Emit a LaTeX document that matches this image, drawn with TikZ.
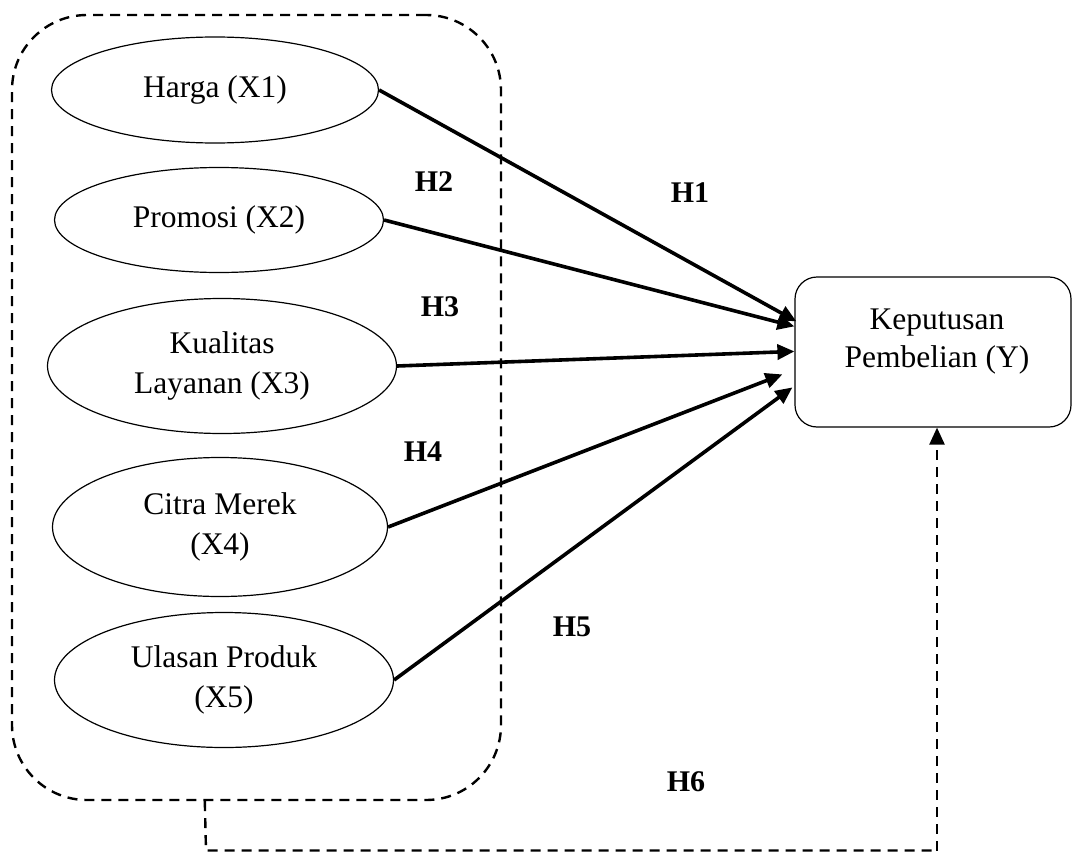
\documentclass[tikz,border=0pt]{standalone}
\usepackage{fontspec}
\setmainfont{Liberation Serif}
\usetikzlibrary{shapes.geometric,arrows.meta,calc}
\tikzset{
  var/.style={draw,ellipse,line width=1.2pt,inner sep=0pt,align=center,font=\fontsize{31.5}{40}\selectfont},
  grpbox/.style={draw,rounded corners=75pt,line width=2.4pt,dash pattern=on 10pt off 7pt,inner sep=0pt},
  ybox/.style={draw,rounded corners=22pt,line width=1.2pt,inner sep=0pt},
  ytext/.style={align=center,font=\fontsize{31.5}{38}\selectfont},
  hyp/.style={font=\fontsize{30}{30}\selectfont\bfseries},
  path/.style={line width=3.6pt,-{Triangle[length=17pt,width=15pt]}},
  dpath/.style={line width=2.4pt,dash pattern=on 10pt off 7pt},
  darr/.style={line width=2.4pt,dash pattern=on 10pt off 7pt,-{Triangle[length=17pt,width=15pt]}}
}
\begin{document}
\begin{tikzpicture}[x=1pt,y=-1pt]
\useasboundingbox (0,0) rectangle (1073,851);
\node[grpbox,minimum width=489pt,minimum height=785pt] (grp) at (256.5,407.5) {};
\node[var,minimum width=327pt,minimum height=106pt] (x1) at (215,90) {Harga (X1)};
\node[var,minimum width=329pt,minimum height=105pt] (x2) at (219,220) {Promosi (X2)};
\node[var,minimum width=349pt,minimum height=135pt] (x3) at (222,366) {Kualitas\\Layanan (X3)};
\node[var,minimum width=335pt,minimum height=139pt] (x4) at (220,527) {Citra Merek\\(X4)};
\node[var,minimum width=339pt,minimum height=135pt] (x5) at (224,680) {Ulasan Produk\\(X5)};
\node[ybox,minimum width=276pt,minimum height=150pt] (Y) at (933,352) {};
\node[ytext] (yt) at (937,342) {Keputusan\\Pembelian (Y)};
\node[hyp] (h1) at (690,193) {H1};
\node[hyp] (h2) at (434,182) {H2};
\node[hyp] (h3) at (440,307) {H3};
\node[hyp] (h4) at (423,452) {H4};
\node[hyp] (h5) at (572,627) {H5};
\node[hyp] (h6) at (686,782) {H6};
\draw[path] (x1.east) -- ($(Y.north west)+(2,45)$);
\draw[path] (x2.east) -- ($(Y.north west)+(0,50)$);
\draw[path] (x3.east) -- ($(Y.north west)+(0,75)$);
\draw[path] (x4.east) -- ($(Y.north west)+(-12,98)$);
\draw[path] (x5.east) -- ($(Y.north west)+(-2,111)$);
\coordinate (c1) at ($(grp.south west)+(194,0)$);
\coordinate (c2) at (206,850.5);
\coordinate (c3) at (937,850.5);
\draw[dpath] (c1) -- (c2) -- (c3);
\draw[darr] (c3) -- (c3 |- Y.south);
\end{tikzpicture}
\end{document}
